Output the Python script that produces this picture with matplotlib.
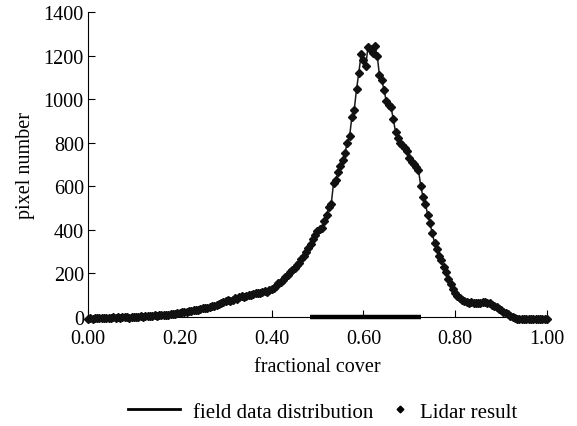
import numpy as np
import matplotlib.pyplot as plt
from matplotlib.lines import Line2D

plt.rcParams['font.family'] = ['Liberation Serif', 'DejaVu Serif']

# lidar-derived fractional cover histogram, bins of 0.005
lidar_counts = [
    -8, -6, -7, -5, -6, -4, -5, -6, -3, -4, -5, -2, -3, -1, -4, -2, 0, -1, -3, 1, 0,
    2, 1, 3, 2, 4, 3, 5, 4, 7, 6, 8, 9, 8, 11, 10, 13, 14, 15, 17,
    20, 22, 21, 25, 27, 26, 30, 33, 32, 36, 40, 42, 41, 46, 49, 52, 55, 60, 63, 68,
    74, 78, 73, 80, 86, 84, 90, 95, 92, 98, 102, 99, 106, 112, 108, 110, 115, 118, 114, 122,
    128, 133, 142, 155, 162, 170, 182, 195, 205, 215,
    225, 238, 250, 265, 280, 298, 318, 335, 358, 375,
    395, 405, 410, 440, 470, 505, 520, 615, 630, 665,
    695, 720, 755, 800, 830, 920, 950, 1045, 1120, 1205,
    1180, 1150, 1240, 1230, 1210, 1245, 1200, 1110, 1090, 1040,
    990, 975, 965, 910, 850, 820, 800, 790, 775, 760,
    730, 710, 700, 690, 675, 600, 550, 520, 470, 430,
    385, 340, 310, 280, 262, 230, 205, 175, 150, 128,
    112, 98, 88, 80, 74, 70, 66, 68, 65, 63,
    66, 64, 68, 70, 66, 62, 55, 50, 44, 38,
    30, 24, 18, 12, 5, 0, -5, -8, -9, -8,
    -10, -8, -9, -7, -10, -8, -9, -8, -10, -9, -8,
]
cover = np.arange(len(lidar_counts)) * 0.005

# range of the field measurements
field_range = [0.483, 0.725]

fig = plt.figure(figsize=(5.77, 4.27), dpi=100)
ax = fig.add_axes([0.1525, 0.2553, 0.7955, 0.7143])

ax.plot(field_range, [0, 0], color='black', lw=3.2, solid_capstyle='butt',
        clip_on=False, zorder=3)
ax.plot(cover, lidar_counts, color='#1a1a1a', lw=1.1, marker='D', ms=3.9,
        mfc='#111111', mec='#111111', clip_on=False, zorder=4)

ax.set_xlim(0, 1)
ax.set_ylim(0, 1400)
ax.set_xticks(np.arange(0, 1.01, 0.2))
ax.set_xticklabels(['0.00', '0.20', '0.40', '0.60', '0.80', '1.00'])
ax.set_yticks(np.arange(0, 1401, 200))
for s in ['top', 'right']:
    ax.spines[s].set_visible(False)
for s in ['left', 'bottom']:
    ax.spines[s].set_linewidth(0.8)
ax.tick_params(direction='in', length=5, width=0.8, labelsize=14.5)
ax.tick_params(axis='x', pad=9)
ax.tick_params(axis='y', pad=3)
ax.set_xlabel('fractional cover', fontsize=14.5, labelpad=6)
ax.set_ylabel('pixel number', fontsize=14.5, labelpad=6)

# legend entries laid out as two pieces so the marker sits close to its text
leg_kw = dict(loc='center left', frameon=False, fontsize=15,
              borderpad=0, borderaxespad=0)
fig.legend([Line2D([], [], color='black', lw=2)],
           ['field data distribution'],
           bbox_to_anchor=(128 / 577, 0.033), handlelength=2.5,
           handletextpad=0.63, **leg_kw)
fig.legend([Line2D([], [], color='black', lw=0, marker='D', ms=3.4)],
           ['Lidar result'],
           bbox_to_anchor=(390 / 577, 0.033), handlelength=1.0,
           handletextpad=0.45, **leg_kw)

fig.savefig('out.png', dpi=100)
